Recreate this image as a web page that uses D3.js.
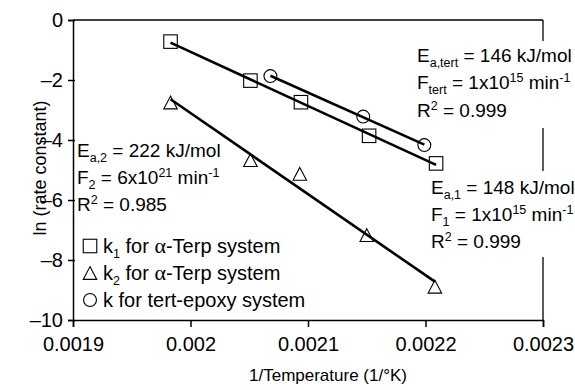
<!DOCTYPE html>
<html><head><meta charset="utf-8">
<script src="https://cdn.jsdelivr.net/npm/d3@7/dist/d3.min.js"></script>
<style>
body{margin:0;background:#fff;}
text{font-family:"Liberation Sans",Arial,Helvetica,sans-serif;fill:#000;}
</style></head>
<body>
<svg id="c" width="575" height="390"></svg>
<script>
// ---- data ----
const xTicks = [0.0019, 0.002, 0.0021, 0.0022, 0.0023];
const xTickLabels = ["0.0019", "0.002", "0.0021", "0.0022", "0.0023"];
const yTicks = [0, -2, -4, -6, -8, -10];
const yTickLabels = ["0", "\u20132", "\u20134", "\u20136", "\u20138", "\u201310"];

const invT_k1 = [0.001983, 0.002051, 0.002094, 0.002152, 0.002209];
const lnk1    = [-0.72, -2.02, -2.74, -3.86, -4.78];
const invT_k2 = [0.001983, 0.002051, 0.002093, 0.00215, 0.002208];
const lnk2    = [-2.75, -4.67, -5.13, -7.17, -8.89];
const invT_tert = [0.002068, 0.002147, 0.002199];
const lnkTert   = [-1.87, -3.22, -4.17];

const legendLabels = [
  ["k", "1", " for ", "α", "-Terp system"],
  ["k", "2", " for ", "α", "-Terp system"],
  ["k", "", " for tert-epoxy system", "", ""]
];

// ---- layout ----
const svg = d3.select("#c");
const L = 73, R = 543, T = 20, B = 320;
const x = d3.scaleLinear().domain([0.0019, 0.0023]).range([L, R]);
const y = d3.scaleLinear().domain([-10, 0]).range([B, T]);
const FS = 19, TFS = 20, LFS = 20;

// frame lines
svg.append("line").attr("x1", L).attr("x2", R).attr("y1", T).attr("y2", T).attr("stroke", "#000").attr("stroke-width", 1.3);
[[T, 41], [128, 171], [257, B]].forEach(s => {
  svg.append("line").attr("x1", R).attr("x2", R).attr("y1", s[0]).attr("y2", s[1]).attr("stroke", "#000").attr("stroke-width", 1.3);
});

// x axis
const xAxis = d3.axisBottom(x).tickValues(xTicks).tickFormat((d, i) => xTickLabels[i]).tickSize(7).tickPadding(10);
const gx = svg.append("g").attr("transform", `translate(0,${B})`).call(xAxis);
gx.select(".domain").attr("stroke-width", 1.5);
gx.selectAll(".tick line").attr("stroke-width", 1.5);
gx.selectAll("text").attr("font-size", TFS).attr("font-family", "Liberation Sans, Arial, sans-serif").attr("fill", "#000");

// y axis
const yAxis = d3.axisLeft(y).tickValues(yTicks).tickFormat((d, i) => yTickLabels[i]).tickSize(5).tickPadding(5);
const gy = svg.append("g").attr("transform", `translate(${L},0)`).call(yAxis);
gy.select(".domain").attr("stroke-width", 1.5);
gy.selectAll(".tick line").attr("stroke-width", 1.5).attr("x2", -5).attr("x1", 2);
gy.selectAll("text").attr("font-size", TFS).attr("font-family", "Liberation Sans, Arial, sans-serif").attr("fill", "#000");

// axis titles
svg.append("text").attr("x", 328).attr("y", 381).attr("text-anchor", "middle").attr("font-size", 17).text("1/Temperature (1/°K)");
svg.append("text").attr("transform", "translate(46,168) rotate(-90)").attr("text-anchor", "middle").attr("font-size", 18).text("ln (rate constant)");

// regression lines
function fit(xs, ys) {
  const n = xs.length, mx = d3.mean(xs), my = d3.mean(ys);
  let sxy = 0, sxx = 0;
  for (let i = 0; i < n; i++) { sxy += (xs[i] - mx) * (ys[i] - my); sxx += (xs[i] - mx) ** 2; }
  const b = sxy / sxx, a = my - b * mx;
  const x0 = d3.min(xs), x1 = d3.max(xs);
  return [[x0, a + b * x0], [x1, a + b * x1]];
}
const lineGen = d3.line().x(d => x(d[0])).y(d => y(d[1]));
[[invT_k1, lnk1], [invT_k2, lnk2], [invT_tert, lnkTert]].forEach(([xs, ys]) => {
  svg.append("path").attr("d", lineGen(fit(xs, ys))).attr("stroke", "#000").attr("stroke-width", 2.6).attr("fill", "none");
});

// markers
const MS = 13.5;
function square(g, cx, cy) {
  g.append("rect").attr("x", cx - MS / 2).attr("y", cy - MS / 2).attr("width", MS).attr("height", MS)
    .attr("fill", "none").attr("stroke", "#000").attr("stroke-width", 1.1);
}
function tri(g, cx, cy) {
  const h = MS * 0.95, w = MS;
  g.append("path").attr("d", `M${cx},${cy - h / 2}L${cx + w / 2},${cy + h / 2}L${cx - w / 2},${cy + h / 2}Z`)
    .attr("fill", "none").attr("stroke", "#000").attr("stroke-width", 1.1);
}
function circ(g, cx, cy) {
  g.append("circle").attr("cx", cx).attr("cy", cy).attr("r", MS / 2 - 0.3)
    .attr("fill", "none").attr("stroke", "#000").attr("stroke-width", 1.1);
}
invT_k1.forEach((v, i) => square(svg, x(v), y(lnk1[i])));
invT_k2.forEach((v, i) => tri(svg, x(v), y(lnk2[i])));
invT_tert.forEach((v, i) => circ(svg, x(v), y(lnkTert[i])));

// rich text helper
function rich(xp, yp, parts, fs) {
  const t = svg.append("text").attr("x", xp).attr("y", yp).attr("font-size", fs || FS);
  let shift = 0;
  parts.forEach(([s, k]) => {
    if (!s) return;
    const sp = t.append("tspan").text(s);
    let target = 0;
    if (k === "sub") { sp.attr("font-size", 12.5); target = 5; }
    else if (k === "sup") { sp.attr("font-size", 12.5); target = -7.5; }
    else if (k === "alpha") { sp.attr("font-family", "Liberation Serif, serif").attr("font-size", (fs || FS) + 2); }
    sp.attr("dy", target - shift);
    shift = target;
  });
  return t;
}

// annotations
rich(417, 62, [["E", "n"], ["a,tert", "sub"], [" = 146 kJ/mol", "n"]]);
rich(417, 89, [["F", "n"], ["tert", "sub"], [" = 1x10", "n"], ["15", "sup"], [" min", "n"], ["-1", "sup"]]);
rich(417, 117, [["R", "n"], ["2", "sup"], [" = 0.999", "n"]]);

rich(77, 157, [["E", "n"], ["a,2", "sub"], [" = 222 kJ/mol", "n"]]);
rich(77, 184, [["F", "n"], ["2", "sub"], [" = 6x10", "n"], ["21", "sup"], [" min", "n"], ["-1", "sup"]]);
rich(77, 211, [["R", "n"], ["2", "sup"], [" = 0.985", "n"]]);

rich(431, 194, [["E", "n"], ["a,1", "sub"], [" = 148 kJ/mol", "n"]]);
rich(431, 221, [["F", "n"], ["1", "sub"], [" = 1x10", "n"], ["15", "sup"], [" min", "n"], ["-1", "sup"]]);
rich(431, 248, [["R", "n"], ["2", "sup"], [" = 0.999", "n"]]);

// legend
const legY = [246, 273, 300];
const legMk = [square, tri, circ];
legendLabels.forEach((lab, i) => {
  legMk[i](svg, 90, legY[i]);
  rich(103, legY[i] + 7, [[lab[0], "n"], [lab[1], "sub"], [lab[2], "n"], [lab[3], "alpha"], [lab[4], "n"]], LFS);
});
</script>
</body></html>
